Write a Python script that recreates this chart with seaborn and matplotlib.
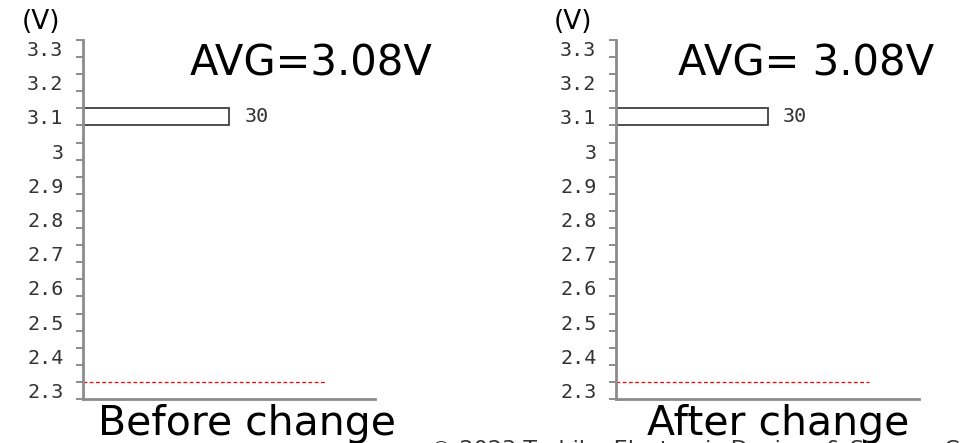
import matplotlib
matplotlib.use("Agg")
import matplotlib.pyplot as plt
import seaborn as sns
import numpy as np

# ---- data ----
bins = ["3.3", "3.25", "3.2", "3.15", "3.1", "3.05", "3", "2.95", "2.9", "2.85",
        "2.8", "2.75", "2.7", "2.65", "2.6", "2.55", "2.5", "2.45", "2.4", "2.35", "2.3"]
shown_labels = ["3.3", "3.2", "3.1", "3", "2.9", "2.8", "2.7", "2.6", "2.5", "2.4", "2.3"]
before_bins = ["3.1"]
before_counts = [30]
after_bins = ["3.1"]
after_counts = [30]
avg_texts = ["AVG=3.08V", "AVG= 3.08V"]
panel_titles = ["Before change", "After change"]
limit_bin = "2.3"
limit_span = [0, 50]
x_max = 60
footer = "\u00a9 2023 Toshiba Electronic Devices & Storage Corporation"

W, H = 964, 443
sns.set_style("white")
fig = plt.figure(figsize=(W / 100, H / 100), dpi=100)

def fx(px):
    return px / W

def fy(py):
    return 1 - py / H

panels = [
    dict(x0=83, x1=375, bins=before_bins, counts=before_counts, avg=avg_texts[0],
         avg_x=190, v_x=41, title=panel_titles[0], title_x=98),
    dict(x0=616, x1=919, bins=after_bins, counts=after_counts, avg=avg_texts[1],
         avg_x=678, v_x=573, title=panel_titles[1], title_x=647),
]
top_px, bot_px = 40, 399
grey = "#8c8c8c"
mono = "DejaVu Sans Mono"

for p in panels:
    ax = fig.add_axes([fx(p["x0"]), fy(bot_px), fx(p["x1"] - p["x0"]), (bot_px - top_px) / H])
    sns.barplot(x=p["counts"], y=p["bins"], order=bins, orient="h", width=1,
                color="white", saturation=1, edgecolor="#404040", linewidth=1.3, ax=ax)
    ax.set_xlim(0, x_max)
    ax.set_ylim(len(bins) - 0.5, -0.5)
    ax.set_xlabel("")
    ax.set_ylabel("")
    ax.set_xticks([])
    label_pos = [bins.index(l) for l in shown_labels]
    ax.set_yticks(label_pos)
    ax.set_yticklabels(shown_labels, fontfamily=mono, fontsize=14.5, color="#333333")
    ax.set_yticks(np.arange(-0.5, len(bins), 1), minor=True)
    ax.tick_params(axis="y", which="major", left=True, length=0, pad=14)
    ax.tick_params(axis="y", which="minor", left=True, length=5, width=1.4, color=grey, direction="out")
    for s in ["top", "right"]:
        ax.spines[s].set_visible(False)
    for s in ["left", "bottom"]:
        ax.spines[s].set_color(grey)
        ax.spines[s].set_linewidth(2)
    ax.bar_label(ax.containers[0], padding=11, fontfamily=mono, fontsize=14.5, color="#333333")
    ly = bins.index(limit_bin) - 0.5
    ax.plot(limit_span, [ly, ly], color="red", linewidth=0.9, linestyle=(0, (3, 2)))
    fig.text(fx(p["avg_x"]), fy(75), p["avg"], fontsize=30, ha="left", va="baseline", color="black")
    fig.text(fx(p["v_x"]), fy(22), "(V)", fontsize=19, ha="center", va="center", color="black")
    fig.text(fx(p["title_x"]), fy(435), p["title"], fontsize=29.5, ha="left", va="baseline", color="black")

fig.text(fx(430), fy(456), footer, fontsize=16, ha="left", va="baseline", color="#333333")

fig.savefig("out.png", dpi=100)
